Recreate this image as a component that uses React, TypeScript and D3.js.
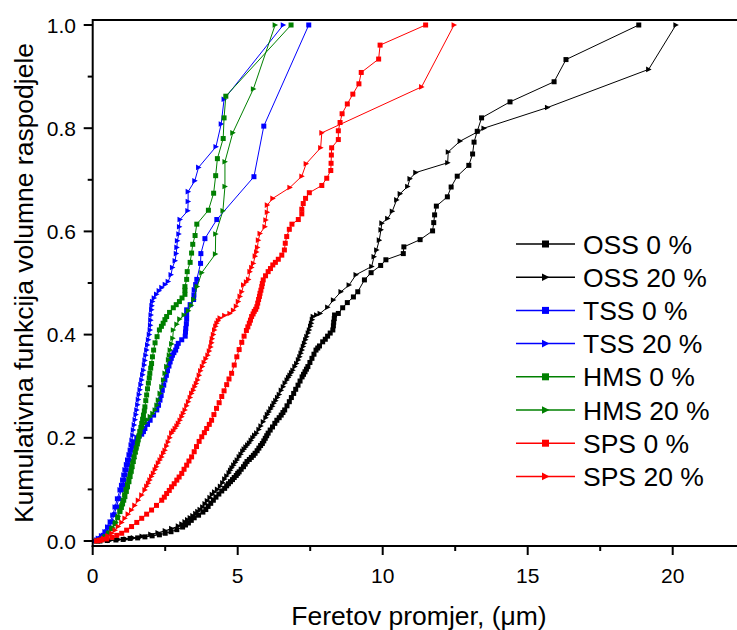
import React from "react";
import * as d3 from "d3";

type Pt = [number, number];

const oss0: Pt[] = [[0.25,0.0],[0.5,0.001],[0.8,0.002],[1.05,0.003],[1.29,0.005],[1.55,0.006],[1.8,0.008],[2.05,0.01],[2.3,0.012],[2.5,0.015],[2.7,0.018],[2.9,0.022],[3.1,0.027],[3.2,0.031],[3.3,0.035],[3.4,0.04],[3.5,0.045],[3.65,0.05],[3.8,0.056],[3.9,0.061],[3.98,0.067],[4.07,0.073],[4.16,0.079],[4.25,0.085],[4.35,0.091],[4.45,0.097],[4.55,0.102],[4.62,0.107],[4.68,0.111],[4.75,0.115],[4.82,0.119],[4.88,0.123],[4.95,0.127],[5.0,0.131],[5.05,0.134],[5.12,0.139],[5.2,0.144],[5.26,0.149],[5.32,0.154],[5.4,0.158],[5.47,0.162],[5.54,0.166],[5.6,0.17],[5.67,0.175],[5.73,0.18],[5.79,0.185],[5.85,0.189],[5.9,0.194],[5.95,0.199],[6.0,0.204],[6.05,0.209],[6.12,0.215],[6.2,0.221],[6.28,0.228],[6.35,0.234],[6.43,0.239],[6.5,0.244],[6.56,0.249],[6.62,0.254],[6.7,0.262],[6.78,0.27],[6.85,0.278],[6.93,0.286],[7.0,0.294],[7.08,0.302],[7.15,0.31],[7.22,0.318],[7.27,0.323],[7.32,0.328],[7.37,0.333],[7.42,0.338],[7.49,0.346],[7.56,0.354],[7.63,0.362],[7.7,0.37],[7.76,0.374],[7.82,0.378],[7.93,0.386],[8.02,0.391],[8.1,0.397],[8.19,0.403],[8.28,0.409],[8.3,0.417],[8.31,0.424],[8.33,0.431],[8.34,0.438],[8.47,0.441],[8.62,0.452],[8.78,0.462],[8.99,0.473],[9.14,0.483],[9.37,0.506],[9.6,0.52],[9.93,0.534],[10.11,0.545],[10.71,0.557],[10.73,0.57],[11.29,0.584],[11.72,0.601],[11.76,0.617],[11.79,0.632],[11.85,0.649],[12.23,0.667],[12.36,0.686],[12.57,0.707],[12.97,0.728],[13.1,0.75],[13.15,0.773],[13.26,0.794],[13.41,0.82],[14.39,0.851],[15.91,0.89],[16.32,0.933],[18.83,1.0]];

const oss20: Pt[] = [[0.3,0.0],[0.6,0.001],[0.9,0.003],[1.15,0.004],[1.4,0.006],[1.7,0.009],[2.0,0.013],[2.25,0.016],[2.5,0.02],[2.72,0.024],[2.95,0.029],[3.07,0.033],[3.18,0.037],[3.27,0.041],[3.36,0.045],[3.45,0.049],[3.55,0.053],[3.62,0.057],[3.7,0.061],[3.79,0.066],[3.87,0.072],[3.95,0.078],[4.04,0.084],[4.12,0.09],[4.2,0.095],[4.3,0.1],[4.4,0.106],[4.48,0.113],[4.55,0.12],[4.62,0.126],[4.7,0.132],[4.75,0.137],[4.8,0.142],[4.86,0.147],[4.92,0.152],[4.98,0.157],[5.05,0.163],[5.11,0.168],[5.17,0.174],[5.22,0.178],[5.28,0.182],[5.34,0.186],[5.4,0.19],[5.46,0.195],[5.52,0.2],[5.58,0.205],[5.65,0.209],[5.73,0.216],[5.8,0.223],[5.88,0.231],[5.97,0.239],[6.02,0.245],[6.08,0.25],[6.14,0.256],[6.2,0.261],[6.25,0.267],[6.31,0.272],[6.37,0.278],[6.43,0.284],[6.5,0.292],[6.57,0.299],[6.63,0.306],[6.7,0.312],[6.75,0.317],[6.8,0.321],[6.85,0.326],[6.9,0.331],[6.97,0.338],[7.03,0.344],[7.09,0.351],[7.14,0.357],[7.18,0.364],[7.22,0.37],[7.26,0.377],[7.3,0.383],[7.34,0.39],[7.38,0.396],[7.43,0.403],[7.47,0.409],[7.51,0.416],[7.54,0.422],[7.57,0.429],[7.6,0.435],[7.72,0.438],[7.84,0.441],[8.1,0.453],[8.3,0.467],[8.56,0.483],[8.84,0.496],[9.08,0.516],[9.62,0.532],[9.7,0.551],[9.79,0.564],[9.88,0.583],[9.94,0.603],[9.97,0.616],[10.17,0.625],[10.33,0.639],[10.48,0.661],[10.6,0.673],[10.86,0.687],[10.94,0.702],[11.14,0.714],[12.24,0.733],[12.26,0.754],[12.67,0.775],[13.28,0.793],[13.49,0.8],[15.68,0.84],[19.17,0.914],[20.11,1.0]];

const tss0: Pt[] = [[0.12,0.0],[0.18,0.002],[0.25,0.005],[0.36,0.011],[0.47,0.018],[0.56,0.027],[0.65,0.037],[0.74,0.051],[0.82,0.066],[0.9,0.082],[0.99,0.099],[1.04,0.108],[1.08,0.118],[1.12,0.128],[1.16,0.138],[1.21,0.148],[1.25,0.157],[1.29,0.167],[1.33,0.176],[1.37,0.184],[1.42,0.192],[1.52,0.2],[1.6,0.203],[1.69,0.207],[1.75,0.212],[1.8,0.218],[1.89,0.226],[1.98,0.234],[2.1,0.244],[2.21,0.254],[2.27,0.263],[2.32,0.273],[2.36,0.282],[2.4,0.292],[2.45,0.302],[2.49,0.312],[2.54,0.321],[2.58,0.33],[2.63,0.339],[2.67,0.347],[2.71,0.354],[2.75,0.36],[2.8,0.365],[2.86,0.37],[2.9,0.377],[2.95,0.383],[3.07,0.39],[3.19,0.397],[3.2,0.405],[3.21,0.412],[3.23,0.421],[3.24,0.43],[3.24,0.439],[3.24,0.448],[3.36,0.458],[3.48,0.468],[3.49,0.477],[3.5,0.487],[3.55,0.497],[3.59,0.507],[3.72,0.538],[3.73,0.557],[3.87,0.586],[4.28,0.623],[5.56,0.706],[5.9,0.804],[7.45,1.0]];

const tss20: Pt[] = [[0.08,0.0],[0.13,0.002],[0.19,0.005],[0.3,0.01],[0.42,0.018],[0.51,0.027],[0.6,0.037],[0.69,0.05],[0.77,0.066],[0.85,0.082],[0.94,0.099],[0.99,0.108],[1.03,0.118],[1.07,0.128],[1.11,0.138],[1.16,0.148],[1.2,0.157],[1.25,0.167],[1.29,0.176],[1.32,0.186],[1.35,0.195],[1.38,0.205],[1.4,0.215],[1.43,0.225],[1.46,0.235],[1.49,0.245],[1.52,0.254],[1.55,0.264],[1.57,0.274],[1.6,0.284],[1.63,0.293],[1.66,0.303],[1.69,0.312],[1.72,0.322],[1.75,0.331],[1.78,0.341],[1.8,0.35],[1.83,0.36],[1.86,0.37],[1.89,0.38],[1.92,0.39],[1.95,0.4],[1.98,0.409],[1.99,0.418],[2.0,0.428],[2.01,0.438],[2.03,0.448],[2.04,0.456],[2.06,0.464],[2.12,0.471],[2.2,0.478],[2.29,0.485],[2.38,0.491],[2.5,0.497],[2.6,0.503],[2.7,0.516],[2.75,0.53],[2.84,0.543],[2.88,0.557],[2.9,0.569],[2.92,0.582],[2.97,0.595],[2.99,0.609],[3.01,0.623],[3.28,0.64],[3.29,0.658],[3.29,0.677],[3.52,0.698],[3.65,0.724],[4.25,0.764],[4.43,0.808],[4.53,0.856],[6.57,1.0]];

const hms0: Pt[] = [[0.14,0.0],[0.22,0.001],[0.31,0.003],[0.42,0.008],[0.54,0.015],[0.65,0.024],[0.77,0.034],[0.86,0.045],[0.94,0.057],[0.99,0.065],[1.03,0.072],[1.07,0.079],[1.11,0.086],[1.16,0.096],[1.2,0.105],[1.25,0.115],[1.29,0.125],[1.33,0.135],[1.36,0.144],[1.4,0.154],[1.43,0.163],[1.47,0.172],[1.5,0.18],[1.54,0.188],[1.57,0.196],[1.6,0.204],[1.63,0.212],[1.66,0.22],[1.69,0.228],[1.72,0.236],[1.75,0.244],[1.78,0.252],[1.8,0.26],[1.83,0.272],[1.86,0.283],[1.89,0.295],[1.92,0.306],[1.95,0.316],[1.97,0.325],[2.0,0.335],[2.03,0.344],[2.06,0.357],[2.1,0.37],[2.15,0.384],[2.22,0.396],[2.3,0.409],[2.37,0.416],[2.43,0.422],[2.49,0.429],[2.55,0.435],[2.65,0.443],[2.78,0.452],[2.88,0.458],[2.99,0.464],[3.08,0.471],[3.18,0.478],[3.18,0.486],[3.18,0.493],[3.24,0.507],[3.26,0.522],[3.36,0.54],[3.41,0.558],[3.45,0.575],[3.53,0.592],[3.59,0.614],[3.99,0.641],[4.17,0.674],[4.24,0.708],[4.3,0.741],[4.5,0.78],[4.53,0.82],[4.59,0.862],[6.84,1.0]];

const hms20: Pt[] = [[0.2,0.0],[0.32,0.003],[0.45,0.008],[0.58,0.016],[0.7,0.025],[0.8,0.036],[0.88,0.048],[0.94,0.058],[1.0,0.068],[1.05,0.079],[1.1,0.09],[1.15,0.1],[1.2,0.11],[1.25,0.12],[1.3,0.13],[1.34,0.14],[1.38,0.15],[1.43,0.16],[1.47,0.17],[1.51,0.18],[1.55,0.19],[1.59,0.201],[1.63,0.212],[1.72,0.22],[1.8,0.228],[1.89,0.235],[1.98,0.241],[2.07,0.247],[2.15,0.254],[2.21,0.263],[2.26,0.273],[2.32,0.286],[2.38,0.299],[2.44,0.312],[2.49,0.325],[2.55,0.338],[2.61,0.351],[2.64,0.36],[2.67,0.37],[2.72,0.382],[2.76,0.393],[2.78,0.409],[2.9,0.42],[3.0,0.43],[3.15,0.438],[3.3,0.446],[3.4,0.457],[3.48,0.468],[3.6,0.493],[3.76,0.52],[4.23,0.556],[4.24,0.595],[4.49,0.64],[4.56,0.687],[4.56,0.735],[4.83,0.791],[5.54,0.876],[6.29,1.0]];

const sps0: Pt[] = [[0.14,0.0],[0.22,0.001],[0.31,0.002],[0.48,0.004],[0.66,0.007],[0.83,0.011],[1.0,0.015],[1.17,0.021],[1.34,0.028],[1.52,0.036],[1.69,0.044],[1.86,0.052],[2.03,0.06],[2.2,0.069],[2.38,0.079],[2.47,0.085],[2.55,0.092],[2.64,0.098],[2.72,0.105],[2.81,0.111],[2.9,0.118],[2.98,0.124],[3.07,0.131],[3.15,0.139],[3.24,0.147],[3.32,0.155],[3.41,0.163],[3.5,0.173],[3.58,0.183],[3.67,0.193],[3.76,0.202],[3.85,0.21],[3.93,0.218],[4.02,0.226],[4.1,0.234],[4.18,0.245],[4.27,0.257],[4.36,0.268],[4.45,0.28],[4.53,0.291],[4.62,0.303],[4.7,0.314],[4.79,0.325],[4.88,0.341],[4.97,0.357],[5.05,0.371],[5.14,0.385],[5.22,0.397],[5.3,0.408],[5.35,0.415],[5.4,0.422],[5.44,0.428],[5.48,0.435],[5.53,0.44],[5.57,0.445],[5.62,0.449],[5.66,0.454],[5.69,0.461],[5.72,0.468],[5.75,0.474],[5.77,0.48],[5.8,0.486],[5.83,0.493],[5.85,0.499],[5.88,0.506],[5.96,0.514],[6.05,0.522],[6.13,0.528],[6.21,0.535],[6.3,0.54],[6.4,0.546],[6.52,0.554],[6.61,0.564],[6.64,0.577],[6.69,0.59],[6.78,0.604],[6.87,0.614],[7.09,0.623],[7.21,0.634],[7.21,0.643],[7.26,0.654],[7.34,0.664],[7.47,0.675],[7.9,0.689],[8.07,0.703],[8.21,0.718],[8.22,0.732],[8.23,0.748],[8.24,0.762],[8.47,0.778],[8.47,0.795],[8.53,0.811],[8.6,0.828],[8.78,0.847],[8.97,0.866],[9.18,0.886],[9.26,0.908],[9.86,0.934],[9.91,0.961],[11.48,1.0]];

const sps20: Pt[] = [[0.14,0.0],[0.25,0.002],[0.37,0.005],[0.52,0.01],[0.66,0.015],[0.77,0.021],[0.88,0.028],[1.0,0.036],[1.11,0.044],[1.22,0.052],[1.34,0.06],[1.45,0.069],[1.57,0.079],[1.69,0.089],[1.8,0.099],[1.86,0.106],[1.92,0.112],[1.97,0.118],[2.03,0.125],[2.09,0.131],[2.15,0.138],[2.2,0.144],[2.26,0.151],[2.32,0.157],[2.38,0.163],[2.44,0.17],[2.49,0.176],[2.55,0.184],[2.6,0.192],[2.66,0.2],[2.72,0.209],[2.78,0.213],[2.84,0.218],[2.9,0.223],[2.95,0.228],[3.01,0.234],[3.07,0.241],[3.12,0.247],[3.18,0.254],[3.24,0.262],[3.3,0.27],[3.36,0.278],[3.41,0.286],[3.47,0.292],[3.52,0.299],[3.57,0.305],[3.62,0.312],[3.67,0.321],[3.72,0.33],[3.78,0.338],[3.84,0.346],[3.9,0.353],[3.97,0.36],[4.02,0.368],[4.07,0.376],[4.1,0.384],[4.12,0.392],[4.16,0.4],[4.2,0.409],[4.24,0.416],[4.28,0.422],[4.33,0.427],[4.39,0.432],[4.55,0.437],[4.73,0.441],[4.85,0.447],[4.95,0.455],[5.02,0.464],[5.08,0.474],[5.14,0.483],[5.2,0.496],[5.3,0.502],[5.37,0.507],[5.42,0.522],[5.48,0.53],[5.54,0.538],[5.6,0.552],[5.65,0.56],[5.68,0.569],[5.71,0.583],[5.77,0.596],[5.94,0.609],[5.97,0.622],[6.02,0.637],[6.02,0.651],[6.21,0.664],[6.8,0.685],[7.21,0.707],[7.36,0.731],[7.86,0.762],[7.9,0.791],[11.34,0.88],[12.46,1.0]];

const seriesNames = ["OSS 0 %", "OSS 20 %", "TSS 0 %", "TSS 20 %", "HMS 0 %", "HMS 20 %", "SPS 0 %", "SPS 20 %"];
const seriesData = [oss0, oss20, tss0, tss20, hms0, hms20, sps0, sps20];
const seriesColors = ["#000000", "#000000", "#0000ff", "#0000ff", "#008000", "#008000", "#ff0000", "#ff0000"];
const seriesMarkers = ["square", "triangle", "square", "triangle", "square", "triangle", "square", "triangle"];

const xMajorTicks = [0, 5, 10, 15, 20];
const xMinorTicks = [2.5, 7.5, 12.5, 17.5];
const yMajorTicks = [0, 0.2, 0.4, 0.6, 0.8, 1.0];
const yMinorTicks = [0.1, 0.3, 0.5, 0.7, 0.9];

const xTitle = "Feretov promjer, (\u03bcm)";
const yTitle = "Kumulativna funkcija volumne raspodjele";

const W = 737;
const H = 630;
const FONT = "'Liberation Sans', Arial, Helvetica, sans-serif";

function marker(kind: string, x: number, y: number, s: number, color: string, key: string | number) {
  if (kind === "square") {
    return <rect key={key} x={x - s / 2} y={y - s / 2} width={s} height={s} fill={color} />;
  }
  const h = s / 2;
  const d = `M${x - h},${y - h - 0.3}L${x + h + 0.5},${y}L${x - h},${y + h + 0.3}Z`;
  return <path key={key} d={d} fill={color} />;
}

export default function App() {
  const x = d3.scaleLinear().domain([0, 22.4]).range([92.7, 92.7 + 22.4 * 29]);
  const y = d3.scaleLinear().domain([0, 1]).range([541, 25]);
  const plotLeft = x(0);
  const plotTop = 20;
  const plotBottom = 546;
  const plotRight = x(22.4);

  const line = d3.line<Pt>().x((d) => x(d[0])).y((d) => y(d[1]));

  const legendX0 = 516;
  const legendX1 = 575;
  const legendY0 = 244;
  const legendDy = 33.2;

  return (
    <svg width={W} height={H} style={{ position: "absolute", left: 0, top: 0, background: "#fff" }} fontFamily={FONT}>
      <rect x={0} y={0} width={W} height={H} fill="#fff" />
      <defs>
        <clipPath id="plotclip">
          <rect x={plotLeft} y={plotTop - 6} width={plotRight - plotLeft} height={plotBottom - plotTop + 12} />
        </clipPath>
      </defs>

      <g clipPath="url(#plotclip)">
        {seriesData.map((data, i) => (
          <g key={i}>
            <path d={line(data) || ""} fill="none" stroke={seriesColors[i]} strokeWidth={1} />
            {data.map((d, j) => marker(seriesMarkers[i], x(d[0]), y(d[1]), 5, seriesColors[i], j))}
          </g>
        ))}
      </g>

      <line x1={plotLeft} x2={plotRight} y1={plotTop} y2={plotTop} stroke="#000" strokeWidth={2} />
      <line x1={plotLeft} x2={plotLeft} y1={plotTop - 1} y2={plotBottom + 1} stroke="#000" strokeWidth={2} />
      <line x1={plotLeft - 1} x2={plotRight} y1={plotBottom} y2={plotBottom} stroke="#000" strokeWidth={2} />

      {xMajorTicks.map((t) => (
        <g key={"xm" + t}>
          <line x1={x(t)} x2={x(t)} y1={plotBottom} y2={plotBottom + 9} stroke="#000" strokeWidth={2} />
          <text x={x(t)} y={583} fontSize={21} textAnchor="middle" fill="#000">{t}</text>
        </g>
      ))}
      {xMinorTicks.map((t) => (
        <line key={"xn" + t} x1={x(t)} x2={x(t)} y1={plotBottom} y2={plotBottom + 5} stroke="#000" strokeWidth={2} />
      ))}

      {yMajorTicks.map((t) => (
        <g key={"ym" + t}>
          <line x1={plotLeft - 9} x2={plotLeft} y1={y(t)} y2={y(t)} stroke="#000" strokeWidth={2} />
          <text x={76} y={y(t) + 7.5} fontSize={21} textAnchor="end" fill="#000">{t.toFixed(1)}</text>
        </g>
      ))}
      {yMinorTicks.map((t) => (
        <line key={"yn" + t} x1={plotLeft - 5} x2={plotLeft} y1={y(t)} y2={y(t)} stroke="#000" strokeWidth={2} />
      ))}

      <text x={419} y={625} fontSize={26.5} textAnchor="middle" fill="#000">{xTitle}</text>
      <text transform={`translate(33,283) rotate(-90)`} fontSize={26.5} textAnchor="middle" fill="#000">{yTitle}</text>

      {seriesNames.map((name, i) => {
        const ly = legendY0 + i * legendDy;
        return (
          <g key={"lg" + i}>
            <line x1={legendX0} x2={legendX1} y1={ly} y2={ly} stroke={seriesColors[i]} strokeWidth={1.5} />
            {marker(seriesMarkers[i], (legendX0 + legendX1) / 2, ly, 7, seriesColors[i], "m" + i)}
            <text x={583} y={ly + 9.5} fontSize={26.5} fill="#000">{name}</text>
          </g>
        );
      })}
    </svg>
  );
}
